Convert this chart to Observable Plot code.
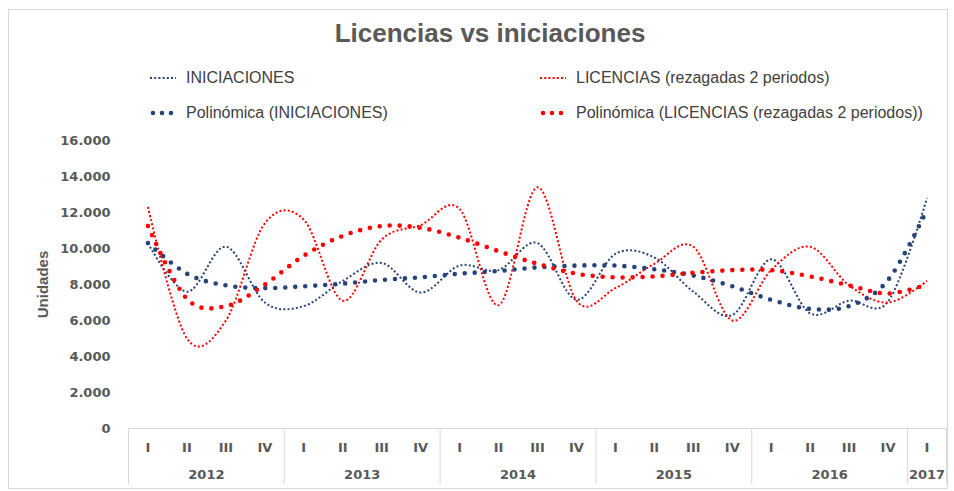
<!DOCTYPE html>
<html>
<head>
<meta charset="utf-8">
<script src="https://cdn.jsdelivr.net/npm/d3@7"></script>
<script src="https://cdn.jsdelivr.net/npm/@observablehq/plot@0.6"></script>
<style>
  body { margin: 0; background: #fff; width: 954px; height: 491px; overflow: hidden; position: relative; }
  #frame { position: absolute; left: 8px; top: 9px; width: 940px; height: 480px; border: 1px solid #d9d9d9; box-sizing: border-box; }
  #title { position: absolute; top: 16px; left: 0; width: 980px; text-align: center; font-family: "Liberation Sans", Arial, sans-serif; font-weight: bold; font-size: 26px; color: #595959; line-height: 34px; }
  .leg { position: absolute; font-family: "Liberation Sans", Arial, sans-serif; font-size: 16px; color: #404040; line-height: 18px; white-space: nowrap; display: flex; align-items: center; }
  .leg svg { margin-right: 10px; }
  #chart { position: absolute; left: 0; top: 130px; }
</style>
</head>
<body>
<div id="frame"></div>
<div id="title">Licencias vs iniciaciones</div>
<div id="legend"></div>
<div id="chart"></div>
<script>
// ---- data ----
const quarters = ["I","II","III","IV","I","II","III","IV","I","II","III","IV","I","II","III","IV","I","II","III","IV","I"];
const years = ["2012","2013","2014","2015","2016","2017"];
const quartersPerYear = [4, 4, 4, 4, 4, 1];
const yTicks = [0, 2000, 4000, 6000, 8000, 10000, 12000, 14000, 16000];

const iniciaciones = [10300, 7600, 10100, 7000, 6800, 8200, 9200, 7550, 9050, 8800, 10300, 7150, 9700, 9500, 7600, 6300, 9400, 6400, 7100, 7050, 12800];
const licencias = [12300, 5000, 6000, 11400, 11600, 7100, 10500, 11300, 12200, 6850, 13400, 7100, 7800, 9150, 10100, 6000, 8800, 10100, 7950, 7000, 8200];
const polyIniciaciones = [10300, 8600, 7950, 7800, 7900, 8050, 8250, 8400, 8600, 8750, 8950, 9050, 9050, 8850, 8500, 7900, 7150, 6650, 6800, 8250, 12150];
const polyLicencias = [11250, 7200, 6800, 8000, 9600, 10700, 11250, 11150, 10600, 9850, 9150, 8600, 8400, 8450, 8650, 8800, 8800, 8450, 7950, 7500, 8000];

const seriesNames = ["INICIACIONES", "LICENCIAS (rezagadas 2 periodos)", "Polinómica (INICIACIONES)", "Polinómica (LICENCIAS (rezagadas 2 periodos))"];

const BLUE = "#264478", RED = "#ff0000";
const smallDots = {strokeWidth: 2, strokeDasharray: "2,2.2", strokeLinecap: "butt"};
const bigDots = {strokeWidth: 4.6, strokeDasharray: "0,10", strokeLinecap: "round"};

// ---- legend (HTML) ----
const legendItems = [
  {name: seriesNames[0], color: BLUE, style: smallDots, left: 150, top: 69},
  {name: seriesNames[1], color: RED, style: smallDots, left: 540, top: 69},
  {name: seriesNames[2], color: BLUE, style: bigDots, left: 150, top: 104},
  {name: seriesNames[3], color: RED, style: bigDots, left: 540, top: 104}
];
const legend = document.getElementById("legend");
for (const it of legendItems) {
  const div = document.createElement("div");
  div.className = "leg";
  div.style.left = it.left + "px";
  div.style.top = it.top + "px";
  const big = it.style === bigDots;
  div.innerHTML = `<svg width="26" height="10"><line x1="${big ? 3 : 0}" x2="${big ? 24 : 26}" y1="5" y2="5" stroke="${it.color}" stroke-width="${big ? 4.6 : 2}" stroke-dasharray="${big ? "0,9" : "2,2.2"}" stroke-linecap="${big ? "round" : "butt"}"/></svg><span>${it.name}</span>`;
  legend.appendChild(div);
}

// ---- chart ----
const mk = arr => arr.map((v, i) => ({i, v}));

let start = 0;
const yearData = years.map((y, k) => {
  const n = quartersPerYear[k];
  const d = {year: y, center: start + (n - 1) / 2, start};
  start += n;
  return d;
});
const separators = yearData.map(d => d.start - 0.5).concat([quarters.length - 0.5]);

const fmt = d => d3.format(",")(d).replace(/,/g, ".");

const chart = Plot.plot({
  width: 954,
  height: 361,
  marginTop: 10,
  marginBottom: 63,
  marginLeft: 128,
  marginRight: 8,
  style: {fontFamily: "'DejaVu Sans', sans-serif", fontSize: "13px", fontWeight: "bold", color: "#595959", background: "transparent"},
  x: {type: "linear", domain: [-0.5, quarters.length - 0.5], axis: null},
  y: {domain: [0, 16000], axis: null},
  marks: [
    Plot.ruleY([0], {stroke: "#d9d9d9", strokeWidth: 1}),
    Plot.ruleX(separators, {y1: 0, y2: -3120, stroke: "#d9d9d9", strokeWidth: 1}),
    Plot.text(yTicks, {x: -0.5, y: d => d, text: d => fmt(d), dx: -18, textAnchor: "end", fill: "#595959", fontWeight: "bold", fontSize: 13}),
    Plot.text(["Unidades"], {x: -0.5, y: 8000, dx: -85, rotate: -90, fill: "#595959", fontWeight: "bold", fontSize: 15, fontFamily: "'Liberation Sans', Arial, sans-serif"}),
    Plot.text(quarters, {x: (d, i) => i, y: 0, dy: 19, text: d => d, fill: "#595959", fontWeight: "bold", fontSize: 13}),
    Plot.text(yearData, {x: "center", y: 0, dy: 46, text: "year", fill: "#595959", fontWeight: "bold", fontSize: 13}),
    Plot.line(mk(iniciaciones), {x: "i", y: "v", stroke: BLUE, curve: "cardinal", ...smallDots}),
    Plot.line(mk(licencias), {x: "i", y: "v", stroke: RED, curve: "cardinal", ...smallDots}),
    Plot.line(mk(polyIniciaciones), {x: "i", y: "v", stroke: BLUE, curve: "cardinal", ...bigDots}),
    Plot.line(mk(polyLicencias), {x: "i", y: "v", stroke: RED, curve: "cardinal", ...bigDots})
  ]
});
document.getElementById("chart").appendChild(chart);
</script>
</body>
</html>
